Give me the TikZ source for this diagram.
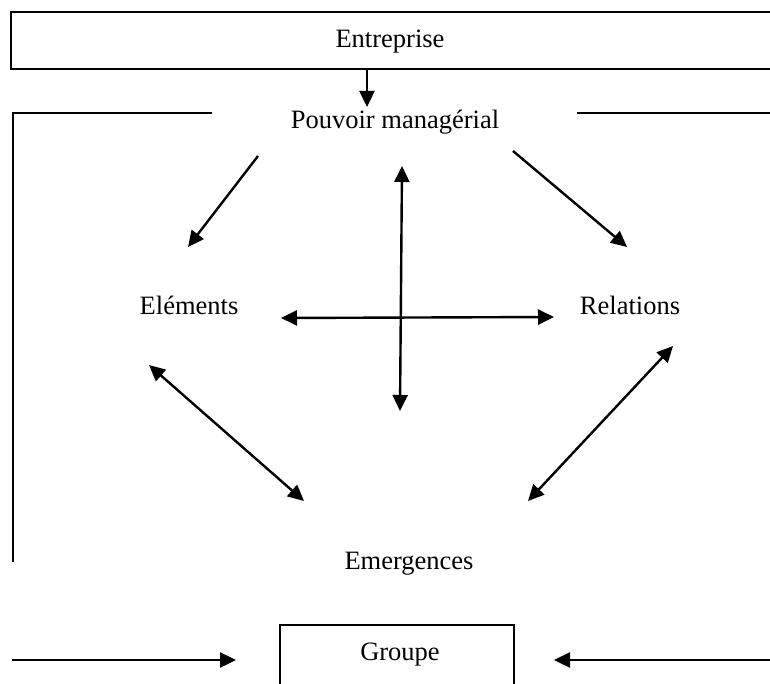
\documentclass[tikz,border=0pt]{standalone}
\usepackage{fontspec}
\setmainfont{Liberation Serif}
\usetikzlibrary{arrows.meta}
\begin{document}
\begin{tikzpicture}[x=1pt,y=-1pt,
  lbl/.style={font=\fontsize{26.5}{30}\selectfont, inner sep=0pt, anchor=base},
  boxst/.style={draw, line width=2.8pt, inner sep=0pt},
  ln/.style={line width=2.6pt},
  tipst/.tip={Triangle[length=16pt,width=15pt]},
  arr/.style={line width=2.4pt, -tipst},
  darr/.style={line width=2.4pt, tipst-tipst}]
\useasboundingbox (0,0) rectangle (770,684);
\clip (0,0) rectangle (770,684);
% boxes
\node[boxst, minimum width=770pt, minimum height=57pt] (entbox) at (396,40.5) {};
\node[boxst, minimum width=234pt, minimum height=90pt] (grpbox) at (397,670) {};
% labels
\node[lbl] (ent) at (390,48) {Entreprise};
\node[lbl] (pm) at (395,129) {Pouvoir managérial};
\node[lbl] (el) at (189,314) {Eléments};
\node[lbl] (rel) at (630,314) {Relations};
\node[lbl] (em) at (409,569) {Emergences};
\node[lbl] (grp) at (400,660) {Groupe};
% bracket
\coordinate (bl1) at (212,113);
\coordinate (bl2) at (13,113);
\coordinate (bl3) at (13,562);
\coordinate (br1) at (577,113);
\coordinate (br2) at (775,113);
\draw[ln] (bl1) -- (bl2) -- (bl3);
\draw[ln] (br1) -- (br2);
% arrow entreprise -> pouvoir
\coordinate (e1) at (367,69);
\coordinate (e2) at (367,107);
\draw[arr] (e1) -- (e2);
% diagram arrows
\coordinate (p1) at (258,156);
\coordinate (p2) at (188,247);
\draw[arr] (p1) -- (p2);
\coordinate (q1) at (513,151);
\coordinate (q2) at (627,247);
\draw[arr] (q1) -- (q2);
\coordinate (h1) at (281,318);
\coordinate (h2) at (554,317);
\draw[darr] (h1) -- (h2);
\coordinate (v1) at (402,166);
\coordinate (v2) at (400,411);
\draw[darr] (v1) -- (v2);
\coordinate (d1) at (149,365);
\coordinate (d2) at (304,501);
\draw[darr] (d1) -- (d2);
\coordinate (f1) at (673,346);
\coordinate (f2) at (528,501);
\draw[darr] (f1) -- (f2);
% groupe arrows
\coordinate (g1) at (12,660);
\coordinate (g2) at (236,660);
\draw[arr] (g1) -- (g2);
\coordinate (g3) at (775,660);
\coordinate (g4) at (554,660);
\draw[arr] (g3) -- (g4);
\end{tikzpicture}
\end{document}
